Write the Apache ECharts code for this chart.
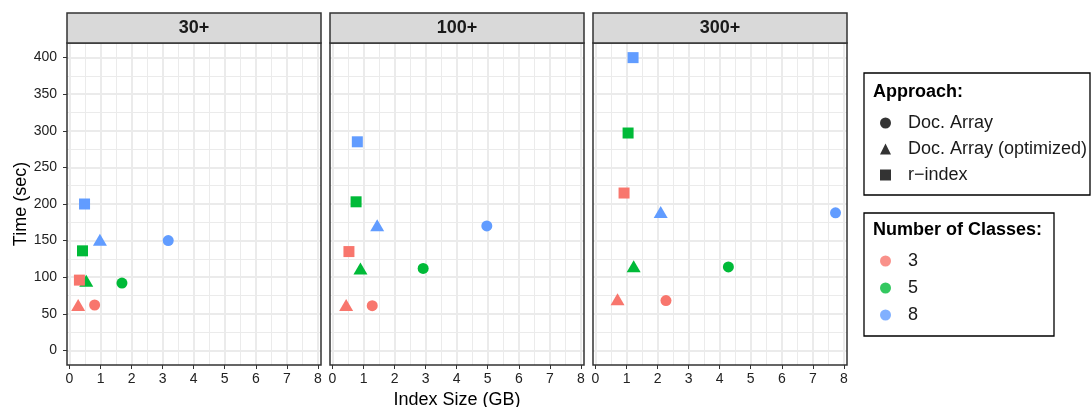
<!DOCTYPE html>
<html>
<head>
<meta charset="utf-8">
<script src="https://cdn.jsdelivr.net/npm/echarts@6/dist/echarts.min.js"></script>
<style>
  html, body { margin: 0; padding: 0; background: #fff; }
  #chart { width: 1091px; height: 407px; }
</style>
</head>
<body>
<div id="chart"></div>
<script>
// facets, approaches and classes
const panels = ['30+', '100+', '300+'];
const approaches = ['Doc. Array', 'Doc. Array (optimized)', 'r−index'];
const approachSymbols = ['circle', 'triangle', 'rect'];
const classes = ['3', '5', '8'];
const classColors = ['#F8766D', '#00BA38', '#619CFF'];

const xTicks = [0, 1, 2, 3, 4, 5, 6, 7, 8];
const xMinor = [0.5, 1.5, 2.5, 3.5, 4.5, 5.5, 6.5, 7.5];
const yTicks = [0, 50, 100, 150, 200, 250, 300, 350, 400];
const yMinor = [25, 75, 125, 175, 225, 275, 325, 375];

// [panel][class] -> index size (GB) and time (sec)
const sizeDocArray = [[0.81, 1.69, 3.18], [1.28, 2.92, 4.97], [2.27, 4.28, 7.73]];
const timeDocArray = [[62, 92, 150], [61, 112, 170], [68, 114, 188]];
const sizeDocArrayOpt = [[0.28, 0.54, 0.98], [0.44, 0.90, 1.44], [0.71, 1.23, 2.10]];
const timeDocArrayOpt = [[62, 95, 151], [62, 112, 171], [70, 115, 189]];
const sizeRIndex = [[0.32, 0.42, 0.485], [0.53, 0.76, 0.80], [0.92, 1.05, 1.21]];
const timeRIndex = [[96, 136, 200], [135, 203, 285], [215, 297, 400]];

const sizes = [sizeDocArray, sizeDocArrayOpt, sizeRIndex];
const times = [timeDocArray, timeDocArrayOpt, timeRIndex];
const symbolSizes = [11, [14, 12], 11];

const font = "'Liberation Sans', Arial, Helvetica, sans-serif";
const gridLeft = [67, 330, 593];
const gridW = 254, gridTop = 43, gridH = 322;

const chart = echarts.init(document.getElementById('chart'));

const grids = [], xAxes = [], yAxes = [], series = [], graphics = [];

panels.forEach((p, i) => {
  grids.push({
    left: gridLeft[i], top: gridTop, width: gridW, height: gridH,
    outerBoundsMode: 'none', containLabel: false,
    show: true, backgroundColor: '#fff', borderWidth: 0
  });
  // major + minor x axes
  xAxes.push({
    type: 'value', gridIndex: i, min: -0.08, max: 8.1, position: 'bottom',
    axisLine: { show: false, onZero: false },
    axisTick: { show: true, customValues: xTicks, length: 4, lineStyle: { color: '#333', width: 1 } },
    axisLabel: { customValues: xTicks, fontSize: 14, color: '#222', margin: 7, fontFamily: font },
    splitLine: { show: true, lineStyle: { color: '#EBEBEB', width: 2 } },
    name: i === 1 ? 'Index Size (GB)' : '',
    nameLocation: 'middle', nameGap: 21,
    nameTextStyle: { fontSize: 18, color: '#000', fontFamily: font }
  });
  xAxes.push({
    type: 'value', gridIndex: i, min: -0.08, max: 8.1, position: 'bottom',
    axisLine: { show: false, onZero: false },
    axisTick: { show: false, customValues: xMinor },
    axisLabel: { show: false },
    splitLine: { show: true, lineStyle: { color: '#EBEBEB', width: 1 } }
  });
  yAxes.push({
    type: 'value', gridIndex: i, min: -20, max: 420, position: 'left',
    axisLine: { show: false, onZero: false },
    axisTick: { show: i === 0, customValues: yTicks, length: 4, lineStyle: { color: '#333', width: 1 } },
    axisLabel: { show: i === 0, customValues: yTicks, fontSize: 14, color: '#222', margin: 10, fontFamily: font },
    splitLine: { show: true, lineStyle: { color: '#EBEBEB', width: 2 } },
    name: i === 0 ? 'Time (sec)' : '',
    nameLocation: 'middle', nameGap: 37,
    nameTextStyle: { fontSize: 18, color: '#000', fontFamily: font }
  });
  yAxes.push({
    type: 'value', gridIndex: i, min: -20, max: 420, position: 'left',
    axisLine: { show: false, onZero: false },
    axisTick: { show: false, customValues: yMinor },
    axisLabel: { show: false },
    splitLine: { show: true, lineStyle: { color: '#EBEBEB', width: 1 } }
  });

  // points: one series per approach, coloured by class
  approaches.forEach((a, k) => {
    series.push({
      type: 'scatter',
      name: p + ' ' + a,
      xAxisIndex: i * 2, yAxisIndex: i * 2,
      symbol: approachSymbols[k],
      symbolSize: symbolSizes[k],
      z: 3 + k,
      data: classes.map((c, j) => ({
        value: [sizes[k][i][j], times[k][i][j]],
        itemStyle: { color: classColors[j], opacity: 1 }
      }))
    });
  });

  // panel border on top of the grid lines
  graphics.push({
    type: 'rect', z: 100,
    shape: { x: gridLeft[i], y: gridTop, width: gridW, height: gridH },
    style: { fill: 'none', stroke: '#333', lineWidth: 1.5 }
  });
  // facet strip
  graphics.push({
    type: 'rect', z: 100,
    shape: { x: gridLeft[i], y: 13, width: gridW, height: 30 },
    style: { fill: '#D9D9D9', stroke: '#333', lineWidth: 1.5 }
  });
  graphics.push({
    type: 'text', z: 101,
    x: gridLeft[i] + gridW / 2, y: 28,
    style: { text: p, font: 'bold 18px ' + font, fill: '#1A1A1A', align: 'center', verticalAlign: 'middle' }
  });
});

// legend-only series
approaches.forEach((a, k) => {
  series.push({ type: 'scatter', name: a, symbol: approachSymbols[k], xAxisIndex: 0, yAxisIndex: 0, itemStyle: { color: '#000' }, data: [] });
});
classes.forEach((c, j) => {
  series.push({ type: 'scatter', name: c, symbol: 'circle', xAxisIndex: 0, yAxisIndex: 0, itemStyle: { color: classColors[j] }, data: [] });
});

// legend boxes and titles
graphics.push({
  type: 'rect', shape: { x: 864, y: 73, width: 226, height: 122 },
  style: { fill: '#fff', stroke: '#000', lineWidth: 1.3 }, z: -1
});
graphics.push({
  type: 'rect', shape: { x: 864, y: 213, width: 190, height: 123 },
  style: { fill: '#fff', stroke: '#000', lineWidth: 1.3 }, z: -1
});
graphics.push({
  type: 'text', x: 873, y: 92,
  style: { text: 'Approach:', font: 'bold 18px ' + font, fill: '#000', verticalAlign: 'middle' }
});
graphics.push({
  type: 'text', x: 873, y: 230,
  style: { text: 'Number of Classes:', font: 'bold 18px ' + font, fill: '#000', verticalAlign: 'middle' }
});

const legendText = { fontSize: 18, color: '#1A1A1A', fontFamily: font, lineHeight: 20, padding: [0, 0, 0, 12] };

chart.setOption({
  animation: false,
  backgroundColor: '#fff',
  grid: grids,
  xAxis: xAxes,
  yAxis: yAxes,
  series: series,
  graphic: graphics,
  legend: [
    {
      orient: 'vertical', left: 880, top: 113, padding: 0,
      itemWidth: 11, itemHeight: 11, itemGap: 6, selectedMode: false,
      data: approaches.map((a, k) => ({ name: a, icon: approachSymbols[k] })),
      textStyle: legendText
    },
    {
      orient: 'vertical', left: 880, top: 251, padding: 0,
      itemWidth: 11, itemHeight: 11, itemGap: 7, selectedMode: false,
      data: classes.map(c => ({ name: c, icon: 'circle' })),
      textStyle: legendText
    }
  ]
});
</script>
</body>
</html>
